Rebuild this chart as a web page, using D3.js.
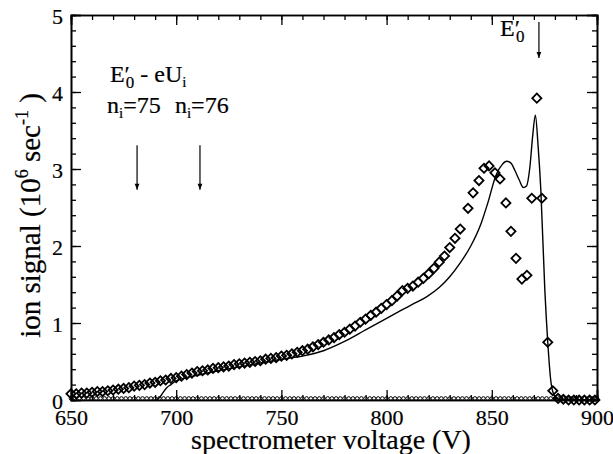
<!DOCTYPE html>
<html>
<head>
<meta charset="utf-8">
<script src="https://cdn.jsdelivr.net/npm/d3@7"></script>
<style>
  body { margin: 0; background: #fff; }
  text { font-family: "Liberation Serif", "Times New Roman", serif; fill: #000; stroke: #000; stroke-width: 0.2px; }
</style>
</head>
<body>
<div id="chart"></div>
<script>
// measured ion signal (diamonds)
const measuredV = [650, 652.5, 655, 657.5, 660, 662.5, 665, 667.5, 670, 672.5, 675, 677.5, 680, 682.5, 685, 687.5,
  690, 692.5, 695, 697.5, 700, 702.5, 705, 707.5, 710, 712.5, 715, 717.5, 720, 722.5, 725, 727.5,
  730, 732.5, 735, 737.5, 740, 742.5, 745, 747.5, 750, 752.5, 755, 757.5, 760, 762.5, 765, 767.5,
  770, 772.5, 775, 777.5, 780, 782.5, 785, 787.5, 790, 792.5, 795, 797.5, 800, 802.5, 805, 807.5,
  810, 812.5, 815, 817.5, 820, 822.5, 825, 827.5, 830, 832.5, 835, 838.7, 841.1, 843.9, 846.3, 848.7,
  851.5, 853.9, 856.7, 859.1, 861.5, 864.3, 866.7, 869.0, 871.4, 873.8, 876.6, 879.0, 881.5, 884,
  886.5, 889, 891.5, 894, 896.5, 899];
const measuredSignal = [0.08, 0.08, 0.09, 0.09, 0.10, 0.11, 0.11, 0.12, 0.13, 0.14, 0.15, 0.16, 0.18, 0.19, 0.20, 0.22,
  0.23, 0.25, 0.26, 0.28, 0.29, 0.31, 0.33, 0.35, 0.37, 0.38, 0.39, 0.41, 0.42, 0.43, 0.44, 0.46,
  0.47, 0.48, 0.49, 0.50, 0.51, 0.53, 0.54, 0.55, 0.57, 0.58, 0.60, 0.62, 0.64, 0.66, 0.69, 0.72,
  0.75, 0.78, 0.81, 0.85, 0.88, 0.92, 0.96, 1.01, 1.05, 1.10, 1.14, 1.19, 1.24, 1.29, 1.35, 1.42,
  1.45, 1.48, 1.53, 1.58, 1.64, 1.71, 1.79, 1.87, 1.98, 2.10, 2.22, 2.49, 2.69, 2.85, 3.01, 3.04,
  2.95, 2.87, 2.56, 2.19, 1.84, 1.57, 1.62, 2.62, 3.92, 2.62, 0.75, 0.12, 0.02, 0.01,
  0, 0, 0, 0, 0, 0];

// simulated signal (solid line)
const simV = [690.8, 692.3, 693.8, 695.5, 697.5, 700, 710, 720, 730, 740, 750, 760, 770, 780, 790, 800, 806, 812, 819,
  825, 830, 835, 840, 845, 848, 852, 855, 857, 859, 861, 863, 865, 866.5, 868, 869.5, 870.7, 872, 873.3,
  875.2, 876.6, 878, 879.2, 881, 883, 900];
const simSignal = [0, 0.04, 0.10, 0.16, 0.20, 0.25, 0.32, 0.38, 0.43, 0.48, 0.53, 0.57, 0.64, 0.76, 0.91, 1.06, 1.15, 1.24, 1.34,
  1.46, 1.60, 1.78, 2.00, 2.30, 2.55, 2.92, 3.06, 3.10, 3.08, 2.98, 2.86, 2.76, 2.78, 3.00, 3.45, 3.70, 3.30, 2.73,
  1.43, 0.75, 0.26, 0.09, 0.02, 0, 0];

// background signal (small circles on the baseline)
const backgroundV = [650, 652, 654, 656, 658, 660, 662, 664, 666, 668, 670, 672, 674, 676, 678, 680, 682, 684, 686, 688,
  690, 692, 694, 696, 698, 700, 702, 704, 706, 708, 710, 712, 714, 716, 718, 720, 722, 724, 726, 728,
  730, 732, 734, 736, 738, 740, 742, 744, 746, 748, 750, 752, 754, 756, 758, 760, 762, 764, 766, 768,
  770, 772, 774, 776, 778, 780, 782, 784, 786, 788, 790, 792, 794, 796, 798, 800, 802, 804, 806, 808,
  810, 812, 814, 816, 818, 820, 822, 824, 826, 828, 830, 832, 834, 836, 838, 840, 842, 844, 846, 848,
  850, 852, 854, 856, 858, 860, 862, 864, 866, 868, 870, 872, 874, 876, 878, 880, 882, 884, 886, 888,
  890, 892, 894, 896, 898, 900];
const backgroundSignal = [0.02, 0.02, 0.02, 0.02, 0.02, 0.02, 0.02, 0.02, 0.02, 0.02, 0.02, 0.02, 0.02, 0.02, 0.02, 0.02, 0.02, 0.02, 0.02, 0.02,
  0.02, 0.02, 0.02, 0.02, 0.02, 0.02, 0.02, 0.02, 0.02, 0.02, 0.02, 0.02, 0.02, 0.02, 0.02, 0.02, 0.02, 0.02, 0.02, 0.02,
  0.02, 0.02, 0.02, 0.02, 0.02, 0.02, 0.02, 0.02, 0.02, 0.02, 0.02, 0.02, 0.02, 0.02, 0.02, 0.02, 0.02, 0.02, 0.02, 0.02,
  0.02, 0.02, 0.02, 0.02, 0.02, 0.02, 0.02, 0.02, 0.02, 0.02, 0.02, 0.02, 0.02, 0.02, 0.02, 0.02, 0.02, 0.02, 0.02, 0.02,
  0.02, 0.02, 0.02, 0.02, 0.02, 0.02, 0.02, 0.02, 0.02, 0.02, 0.02, 0.02, 0.02, 0.02, 0.02, 0.02, 0.02, 0.02, 0.02, 0.02,
  0.02, 0.02, 0.02, 0.02, 0.02, 0.02, 0.02, 0.02, 0.02, 0.02, 0.02, 0.02, 0.02, 0.02, 0.02, 0.02, 0.02, 0.02, 0.02, 0.02,
  0.02, 0.02, 0.02, 0.02, 0.02, 0.02];

const xTicks = [650, 700, 750, 800, 850, 900];
const yTicks = [0, 1, 2, 3, 4, 5];
const xDomain = [650, 900];
const yDomain = [0, 5];

// annotation anchors (data coords)
const shellArrows = [681.4, 711.3];
const shellLabels = [{ v: 667.1, n: "75" }, { v: 699.4, n: "76" }];
const e0Arrow = 872.4;

function chart() {
  const W = 613, H = 454;
  const margin = { top: 15, right: 16, bottom: 54, left: 71 };

  const svg = d3.select("#chart").append("svg")
    .attr("width", W).attr("height", H);

  const x = d3.scaleLinear().domain(xDomain).range([margin.left, W - margin.right]);
  const y = d3.scaleLinear().domain(yDomain).range([H - margin.bottom, margin.top]);

  svg.append("defs").append("marker")
    .attr("id", "arrow")
    .attr("markerUnits", "userSpaceOnUse")
    .attr("viewBox", "0 0 10 10")
    .attr("refX", 10).attr("refY", 5)
    .attr("markerWidth", 10).attr("markerHeight", 6)
    .attr("orient", "auto")
    .append("path")
    .attr("d", "M0,1 L10,5 L0,9 Z")
    .attr("fill", "#000");

  // simulation line
  const line = d3.line()
    .x((d, i) => x(simV[i]))
    .y((d) => y(d))
    .curve(d3.curveMonotoneX);
  svg.append("path")
    .datum(simSignal)
    .attr("d", line)
    .attr("fill", "none")
    .attr("stroke", "#000")
    .attr("stroke-width", 1.4);

  // background circles
  svg.append("g").selectAll("circle")
    .data(backgroundSignal)
    .join("circle")
    .attr("cx", (d, i) => x(backgroundV[i]))
    .attr("cy", (d) => y(d))
    .attr("r", 1.8)
    .attr("fill", "none")
    .attr("stroke", "#000")
    .attr("stroke-width", 1);

  // measured diamonds
  const diamond = d3.symbol().type(d3.symbolSquare).size(42);
  svg.append("g").selectAll("path")
    .data(measuredSignal)
    .join("path")
    .attr("d", diamond)
    .attr("transform", (d, i) => "translate(" + x(measuredV[i]) + "," + y(d) + ") rotate(45)")
    .attr("fill", "none")
    .attr("stroke", "#000")
    .attr("stroke-width", 1.8);

  // axes (ticks inward on all four sides)
  const plotH = H - margin.top - margin.bottom;
  const minorX = d3.range(650, 901, 10);
  const minorY = d3.range(0, 5.01, 0.2);

  function styleAxis(g) {
    g.select(".domain").attr("stroke-width", 1.6);
    g.selectAll(".tick line").attr("stroke-width", 1.3);
  }

  svg.append("g").attr("transform", "translate(0," + y(0) + ")")
    .call(d3.axisBottom(x).tickValues(minorX).tickSize(-5).tickFormat(""))
    .call(styleAxis);
  svg.append("g").attr("transform", "translate(0," + y(0) + ")")
    .call(d3.axisBottom(x).tickValues(xTicks).tickSize(-10).tickFormat(d3.format("d")))
    .call(styleAxis)
    .call((g) => g.selectAll("text").attr("y", 25).attr("dy", null)
      .style("font-size", "22px").style("font-family", "'Liberation Serif', serif"));

  svg.append("g").attr("transform", "translate(0," + y(5) + ")")
    .call(d3.axisTop(x).tickValues(minorX).tickSize(-5).tickFormat(""))
    .call(styleAxis);
  svg.append("g").attr("transform", "translate(0," + y(5) + ")")
    .call(d3.axisTop(x).tickValues(xTicks).tickSize(-10).tickFormat(""))
    .call(styleAxis);

  svg.append("g").attr("transform", "translate(" + x(650) + ",0)")
    .call(d3.axisLeft(y).tickValues(minorY).tickSize(-5).tickFormat(""))
    .call(styleAxis);
  svg.append("g").attr("transform", "translate(" + x(650) + ",0)")
    .call(d3.axisLeft(y).tickValues(yTicks).tickSize(-10).tickPadding(8).tickFormat(d3.format("d")))
    .call(styleAxis)
    .call((g) => g.selectAll("text").attr("dy", "0.4em")
      .style("font-size", "22px").style("font-family", "'Liberation Serif', serif"));

  svg.append("g").attr("transform", "translate(" + x(900) + ",0)")
    .call(d3.axisRight(y).tickValues(minorY).tickSize(-5).tickFormat(""))
    .call(styleAxis);
  svg.append("g").attr("transform", "translate(" + x(900) + ",0)")
    .call(d3.axisRight(y).tickValues(yTicks).tickSize(-10).tickFormat(""))
    .call(styleAxis);

  // axis titles
  svg.append("text")
    .attr("x", 331)
    .attr("y", 449)
    .attr("text-anchor", "middle")
    .style("font-size", "28px")
    .text("spectrometer voltage (V)");

  const yl = svg.append("text")
    .attr("transform", "translate(40," + (margin.top + plotH / 2 + 8) + ") rotate(-90)")
    .attr("text-anchor", "middle")
    .style("font-size", "29px");
  yl.append("tspan").text("ion signal (10");
  yl.append("tspan").attr("dy", -12).style("font-size", "18px").text("6");
  yl.append("tspan").attr("dy", 12).text(" sec");
  yl.append("tspan").attr("dy", -12).style("font-size", "18px").text("-1");
  yl.append("tspan").attr("dy", 12).text(" )");

  // annotations
  const t1 = svg.append("text")
    .attr("x", x(668.5)).attr("y", y(4.13))
    .style("font-size", "24px");
  t1.append("tspan").text("E′");
  t1.append("tspan").attr("dx", -4).attr("dy", 6).style("font-size", "17px").text("0");
  t1.append("tspan").attr("dy", -6).text(" - eU");
  t1.append("tspan").attr("dy", 5).style("font-size", "15px").text("i");

  shellLabels.forEach((s) => {
    const t = svg.append("text")
      .attr("x", x(s.v)).attr("y", y(3.73))
      .style("font-size", "24px");
    t.append("tspan").text("n");
    t.append("tspan").attr("dy", 5).style("font-size", "15px").text("i");
    t.append("tspan").attr("dy", -5).text("=" + s.n);
  });

  svg.selectAll(".shellArrow")
    .data(shellArrows)
    .join("line")
    .attr("x1", (d) => x(d)).attr("x2", (d) => x(d))
    .attr("y1", y(3.31)).attr("y2", y(2.73))
    .attr("stroke", "#000").attr("stroke-width", 1.2)
    .attr("marker-end", "url(#arrow)");

  const t2 = svg.append("text")
    .attr("x", x(853.9)).attr("y", y(4.73))
    .style("font-size", "24px");
  t2.append("tspan").text("E′");
  t2.append("tspan").attr("dx", -4).attr("dy", 6).style("font-size", "17px").text("0");

  svg.append("line")
    .attr("x1", x(e0Arrow)).attr("x2", x(e0Arrow))
    .attr("y1", y(4.91)).attr("y2", y(4.44))
    .attr("stroke", "#000").attr("stroke-width", 1.2)
    .attr("marker-end", "url(#arrow)");
}

chart();
</script>
</body>
</html>
